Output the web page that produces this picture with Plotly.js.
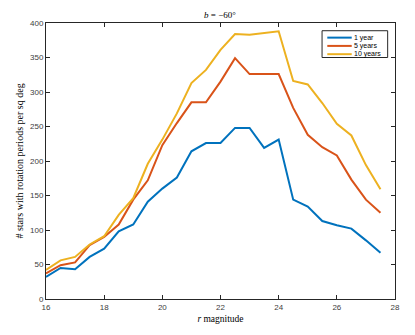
<!DOCTYPE html>
<html>
<head>
<meta charset="utf-8">
<script src="https://cdn.plot.ly/plotly-3.0.1.min.js"></script>
<style>
  html, body { margin: 0; padding: 0; background: #fff; }
  #chart { width: 415px; height: 335px; }
</style>
</head>
<body>
<div id="chart"></div>
<script>
const magnitudes = [16, 16.5, 17, 17.5, 18, 18.5, 19, 19.5, 20, 20.5, 21, 21.5, 22, 22.5, 23, 23.5, 24, 24.5, 25, 25.5, 26, 26.5, 27, 27.5];
const oneYear = [32, 45, 43, 61, 73, 98, 108, 141, 160, 176, 214, 226, 226, 248, 248, 219, 231, 144, 134, 113, 107, 102, 85, 67];
const fiveYears = [37, 49, 53, 78, 90, 108, 144, 172, 223, 255, 285, 285, 315, 349, 326, 326, 326, 277, 238, 220, 208, 173, 144, 125];
const tenYears = [42, 56, 61, 79, 91, 122, 146, 196, 231, 269, 313, 332, 361, 384, 383, 385, 388, 316, 311, 284, 254, 237, 194, 159];
const seriesNames = ["1 year", "5 years", "10 years"];
const xTicks = [16, 18, 20, 22, 24, 26, 28];
const yTicks = [0, 50, 100, 150, 200, 250, 300, 350, 400];

const colors = { blue: "#0072BD", orange: "#D95319", yellow: "#EDB120", axis: "#262626", tick: "#404040" };
const lineColors = [colors.blue, colors.orange, colors.yellow];
const serif = "'Liberation Serif', 'DejaVu Serif', serif";
const sans = "'Liberation Sans', Arial, sans-serif";

const traces = [oneYear, fiveYears, tenYears].map((ys, i) => ({
  x: magnitudes,
  y: ys,
  name: seriesNames[i],
  type: "scatter",
  mode: "lines",
  line: { color: lineColors[i], width: 2 },
}));

// MATLAB-style compact legend, built from shapes + annotations (plotly's own legend rows are too tall)
const legendBox = { x0: 0.791, x1: 0.979, y0: 0.875, y1: 0.972 };
const legendRows = [0.947, 0.917, 0.887];
const legendShapes = [
  {
    type: "rect", xref: "paper", yref: "paper",
    x0: legendBox.x0, x1: legendBox.x1, y0: legendBox.y0, y1: legendBox.y1,
    line: { color: colors.axis, width: 1 }, fillcolor: "#fff", layer: "above",
  },
  ...legendRows.map((y, i) => ({
    type: "line", xref: "paper", yref: "paper",
    x0: 0.806, x1: 0.876, y0: y, y1: y,
    line: { color: lineColors[i], width: 2 }, layer: "above",
  })),
];
const legendLabels = legendRows.map((y, i) => ({
  xref: "paper", yref: "paper", x: 0.877, y: y,
  xanchor: "left", yanchor: "middle", showarrow: false,
  text: seriesNames[i],
  font: { family: sans, size: 7, color: "#000" },
}));

const axisBase = {
  showline: true,
  linecolor: colors.axis,
  linewidth: 1,
  mirror: "ticks",
  ticks: "inside",
  ticklen: 4,
  tickcolor: colors.axis,
  showgrid: false,
  zeroline: false,
  tickfont: { family: sans, size: 8, color: colors.tick },
};

const layout = {
  width: 415,
  height: 335,
  paper_bgcolor: "#fff",
  plot_bgcolor: "#fff",
  margin: { l: 46, r: 20, t: 23, b: 36 },
  title: {
    text: "<i>b</i> = −60°",
    font: { family: serif, size: 9, color: "#000" },
    x: 0.53,
    xanchor: "center",
    y: 0.955,
    yanchor: "middle",
  },
  xaxis: {
    ...axisBase,
    range: [16, 28],
    tickvals: xTicks,
    title: { text: "<i>r</i> magnitude", font: { family: serif, size: 9.5, color: "#000" }, standoff: 4 },
  },
  yaxis: {
    ...axisBase,
    range: [0, 400],
    tickvals: yTicks,
    title: { text: "# stars with rotation periods per sq deg", font: { family: serif, size: 10, color: "#000" }, standoff: 4 },
  },
  shapes: legendShapes,
  annotations: legendLabels,
  showlegend: false,
};

Plotly.newPlot("chart", traces, layout, { displayModeBar: false, staticPlot: true });
</script>
</body>
</html>
